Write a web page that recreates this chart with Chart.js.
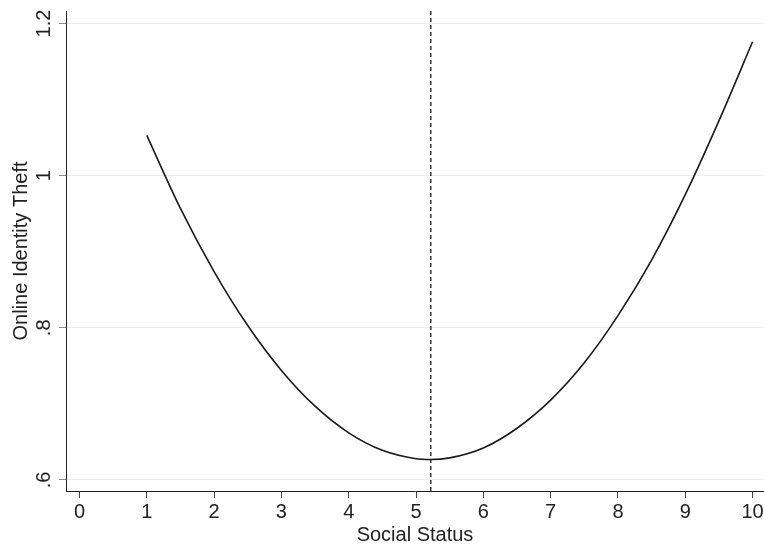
<!DOCTYPE html>
<html>
<head>
<meta charset="utf-8">
<script src="https://cdn.jsdelivr.net/npm/chart.js@4.4.1/dist/chart.umd.min.js"></script>
<style>
  html, body { margin: 0; padding: 0; background: #fff; }
  #wrap { width: 764px; height: 545px; }
</style>
</head>
<body>
<div id="wrap"><canvas id="chart"></canvas></div>
<script>
// social status (x) and predicted online identity theft (y)
var socialStatus = [1, 1.5, 2, 2.5, 3, 3.5, 4, 4.5, 5, 5.22, 5.5, 6, 6.5, 7, 7.5, 8, 8.5, 9, 9.5, 10];
var theft        = [1.053, 0.957, 0.874, 0.803, 0.744, 0.697, 0.662, 0.639, 0.628, 0.627, 0.629, 0.642, 0.668, 0.705, 0.754, 0.816, 0.889, 0.975, 1.072, 1.176];
var turningPoint = 5.22; // dashed line

var xTicks = [0, 1, 2, 3, 4, 5, 6, 7, 8, 9, 10];
var yTicks = [0.6, 0.8, 1, 1.2];
var yTickLabels = ['.6', '.8', '1', '1.2'];

var xMin = -0.2, xMax = 10.17;
var yMin = 0.5855, yMax = 1.2165;

var fontFam = '"Liberation Sans", Arial, Helvetica, sans-serif';

var curve = [];
for (var i = 0; i < socialStatus.length; i++) curve.push({x: socialStatus[i], y: theft[i]});

var ctx = document.getElementById('chart').getContext('2d');
var chart = new Chart(ctx, {
    type: 'line',
    data: {
        datasets: [{
            label: 'fit',
            data: curve,
            borderColor: '#1a1a1a',
            borderWidth: 1.6,
            pointRadius: 0,
            fill: false,
            cubicInterpolationMode: 'monotone'
        }, {
            label: 'turning point',
            data: [{x: turningPoint, y: yMin}, {x: turningPoint, y: yMax}],
            borderColor: '#1a1a1a',
            borderWidth: 1.3,
            borderDash: [4, 3],
            pointRadius: 0,
            fill: false
        }]
    },
    options: {
        responsive: true,
        maintainAspectRatio: false,
        animation: false,
        layout: { padding: { top: 11, left: 0, right: 0, bottom: 0 } },
        plugins: {
            legend: { display: false },
            tooltip: { enabled: false }
        },
        scales: {
            x: {
                type: 'linear',
                min: xMin,
                max: xMax,
                afterBuildTicks: function (s) { s.ticks = xTicks.map(function (v) { return {value: v}; }); },
                afterFit: function (s) { s.height = 54; s.paddingLeft = 0; s.paddingRight = 0; },
                grid: {
                    drawOnChartArea: false,
                    tickLength: 7,
                    tickColor: '#444',
                    tickWidth: 1
                },
                border: { display: true, color: '#222', width: 1 },
                ticks: {
                    color: '#222',
                    padding: 2,
                    maxRotation: 0,
                    font: { family: fontFam, size: 20 }
                },
                title: {
                    display: true,
                    text: 'Social Status',
                    color: '#222',
                    padding: { top: 0, bottom: -2 },
                    font: { family: fontFam, size: 20 }
                }
            },
            y: {
                type: 'linear',
                min: yMin,
                max: yMax,
                afterBuildTicks: function (s) { s.ticks = yTicks.map(function (v) { return {value: v}; }); },
                afterFit: function (s) { s.width = 66; s.paddingTop = 0; s.paddingBottom = 0; },
                grid: {
                    color: '#ececec',
                    lineWidth: 1,
                    tickLength: 7,
                    tickColor: '#888',
                    tickWidth: 1
                },
                border: { display: true, color: '#222', width: 1 },
                ticks: {
                    color: '#222',
                    padding: 1,
                    minRotation: 90,
                    maxRotation: 90,
                    crossAlign: 'center',
                    font: { family: fontFam, size: 20 },
                    callback: function (value, index) { return yTickLabels[index]; }
                },
                title: {
                    display: true,
                    text: 'Online Identity Theft',
                    color: '#222',
                    padding: { top: 9, bottom: 0 },
                    font: { family: fontFam, size: 20 }
                }
            }
        }
    }
});
</script>
</body>
</html>
